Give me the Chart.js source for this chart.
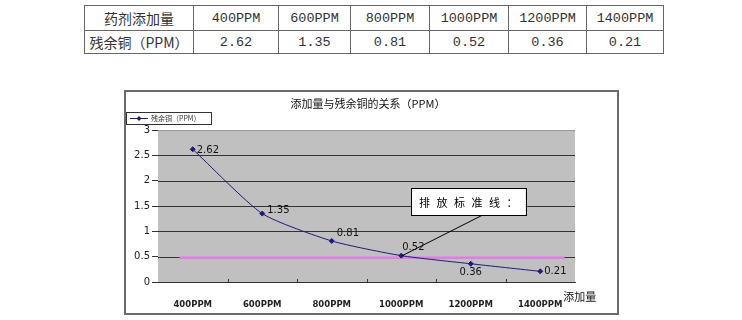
<!DOCTYPE html>
<html>
<head>
<meta charset="utf-8">
<script src="https://cdn.jsdelivr.net/npm/chart.js@4"></script>
<style>
  body { margin: 0; background: #fff; width: 742px; height: 320px; position: relative; overflow: hidden; }
  #tabela { position: absolute; left: 84px; top: 5px; border-collapse: collapse;
    font-family: "Liberation Mono", "Noto Sans CJK SC", monospace; font-size: 13.5px; color: #333; }
  #tabela td { border: 1px solid #666; text-align: center; padding: 0; }
  #tabela tr:first-child td { height: 24px; }
  #tabela tr:last-child td { height: 22px; }
  #tabela td.rot { font-family: "Noto Sans CJK SC", sans-serif; font-size: 14px; }
  #quadro { position: absolute; left: 124px; top: 90px; width: 495px; height: 225px;
    box-sizing: border-box; border: 2px solid #6b6b6b; background: #fff; }
  #quadro canvas { display: block; }
</style>
</head>
<body>
<table id="tabela"></table>
<div id="quadro"><canvas id="grafico" width="491" height="221"></canvas></div>
<script>
// dados
const categorias = ['400PPM', '600PPM', '800PPM', '1000PPM', '1200PPM', '1400PPM'];
const cobreResidual = [2.62, 1.35, 0.81, 0.52, 0.36, 0.21];
const linhaPadrao = 0.48;
const rotuloLinha = '药剂添加量';
const rotuloSerie = '残余铜（PPM）';
const tituloGrafico = '添加量与残余铜的关系（PPM）';
const tituloEixoX = '添加量';
const textoNota = '排放标准线：';

// tabela de cima
const tabela = document.getElementById('tabela');
const larguras = [108, 84, 71, 78, 78, 77, 76];
[[rotuloLinha, ...categorias], [rotuloSerie, ...cobreResidual.map(v => v.toFixed(2))]].forEach(linha => {
  const tr = document.createElement('tr');
  linha.forEach((txt, i) => {
    const td = document.createElement('td');
    td.textContent = txt;
    td.style.width = larguras[i] + 'px';
    if (i === 0) td.className = 'rot';
    tr.appendChild(td);
  });
  tabela.appendChild(tr);
});

const azul = '#1c1c7a';

// rotulos de valor: deslocamento [dx, dy, alinhamento] em px
const deslocRotulos = [[4, 1, 'left'], [5, -3, 'left'], [5, -8, 'left'], [1, -8, 'left'], [0, 9, 'center'], [4, 0, 'left']];

const extras = {
  id: 'extras',
  beforeDatasetsDraw(chart) {
    const { ctx, chartArea: a } = chart;
    ctx.save();
    ctx.fillStyle = '#c0c0c0';
    ctx.fillRect(a.left, a.top, a.right - a.left, a.bottom - a.top);
    // redesenha as linhas de grade por cima do fundo
    const y = chart.scales.y;
    ctx.strokeStyle = '#333';
    ctx.lineWidth = 1;
    y.ticks.forEach(t => {
      const py = Math.round(y.getPixelForValue(t.value)) + 0.5;
      ctx.strokeStyle = t.value === y.max ? '#9a9a9a' : '#333';
      ctx.beginPath(); ctx.moveTo(a.left, py); ctx.lineTo(a.right, py); ctx.stroke();
    });
    ctx.restore();
  },
  afterDatasetsDraw(chart) {
    const { ctx, chartArea: a } = chart;
    const x = chart.scales.x, x2 = chart.scales.x2, y = chart.scales.y;
    ctx.save();

    // marquinhas do eixo x nas divisas
    ctx.strokeStyle = '#333';
    ctx.lineWidth = 1;
    const passo = x.getPixelForValue(1) - x.getPixelForValue(0);
    for (let i = 1; i < categorias.length; i++) {
      const px = Math.round(x.getPixelForValue(i) - passo / 2) + 0.5;
      ctx.beginPath(); ctx.moveTo(px, a.bottom); ctx.lineTo(px, a.bottom - 3); ctx.stroke();
    }

    // valores
    const meta = chart.getDatasetMeta(1);
    ctx.font = '10px "DejaVu Sans"';
    ctx.fillStyle = '#111';
    ctx.textBaseline = 'middle';
    meta.data.forEach((p, i) => {
      const [dx, dy, al] = deslocRotulos[i];
      ctx.textAlign = al;
      ctx.fillText(cobreResidual[i].toFixed(2), p.x + dx, p.y + dy);
    });

    // caixa da nota + linha de chamada
    const bx1 = x2.getPixelForValue(3.14), bx2 = x2.getPixelForValue(4.79);
    const by1 = y.getPixelForValue(1.855), by2 = y.getPixelForValue(1.32);
    const alvo = meta.data[3];
    ctx.strokeStyle = '#000';
    ctx.beginPath();
    ctx.moveTo(x2.getPixelForValue(4.17), by2);
    ctx.lineTo(alvo.x + 1, alvo.y);
    ctx.stroke();
    ctx.fillStyle = '#fff';
    ctx.fillRect(bx1, by1, bx2 - bx1, by2 - by1);
    ctx.strokeRect(Math.round(bx1) + 0.5, Math.round(by1) + 0.5, Math.round(bx2 - bx1), Math.round(by2 - by1));
    ctx.fillStyle = '#000';
    ctx.font = '11px "Noto Sans CJK SC"';
    ctx.textAlign = 'center';
    const chars = [...textoNota];
    const meio = (bx1 + bx2) / 2, esp = 17.5;
    chars.forEach((c, i) => {
      ctx.fillText(c, meio + (i - (chars.length - 1) / 2) * esp, (by1 + by2) / 2 + 1);
    });

    // titulo do eixo x
    ctx.font = '11px "Noto Sans CJK SC"';
    ctx.textAlign = 'left';
    ctx.fillStyle = '#111';
    ctx.fillText(tituloEixoX, x.getPixelForValue(categorias.length - 1) + 23, a.bottom + 15);

    // titulo
    ctx.font = '11px "Noto Sans CJK SC"';
    ctx.textAlign = 'center';
    ctx.fillText(tituloGrafico, 242, 12);

    // legenda
    ctx.fillStyle = '#fff';
    ctx.fillRect(0, 20, 85, 12);
    ctx.strokeStyle = '#333';
    ctx.strokeRect(0.5, 20.5, 85, 12);
    ctx.strokeStyle = azul;
    ctx.beginPath(); ctx.moveTo(4, 26.5); ctx.lineTo(22, 26.5); ctx.stroke();
    ctx.fillStyle = azul;
    ctx.beginPath(); ctx.moveTo(13, 24); ctx.lineTo(15.5, 26.5); ctx.lineTo(13, 29); ctx.lineTo(10.5, 26.5); ctx.closePath(); ctx.fill();
    ctx.fillStyle = '#333';
    ctx.font = '7px "Noto Sans CJK SC"';
    ctx.textAlign = 'left';
    ctx.fillText(rotuloSerie, 25, 26.5);
    ctx.restore();
  }
};

new Chart(document.getElementById('grafico'), {
  type: 'line',
  data: {
    labels: categorias,
    datasets: [
      {
        label: '排放标准线',
        xAxisID: 'x2',
        data: [{ x: -0.19, y: linhaPadrao }, { x: 5.35, y: linhaPadrao }],
        borderColor: '#e07ee4',
        borderWidth: 2.5,
        pointRadius: 0,
        order: 2
      },
      {
        label: rotuloSerie,
        xAxisID: 'x',
        data: cobreResidual,
        borderColor: azul,
        backgroundColor: azul,
        borderWidth: 1,
        tension: 0.2,
        pointStyle: 'rectRot',
        pointRadius: 2.5,
        order: 1
      }
    ]
  },
  options: {
    responsive: false,
    animation: false,
    layout: { padding: { left: 0, right: 42, top: 38, bottom: 0 } },
    plugins: { legend: { display: false }, title: { display: false }, tooltip: { enabled: false } },
    scales: {
      x: {
        type: 'category',
        offset: true,
        grid: { display: false },
        border: { display: true, color: '#333' },
        ticks: { color: '#222', padding: 10, maxRotation: 0, autoSkip: false,
          font: { family: 'DejaVu Sans', size: 8.5, weight: 'bold' } },
        afterFit(s) { s.height = 31; }
      },
      x2: { type: 'linear', display: false, min: -0.5, max: 5.5 },
      y: {
        min: 0, max: 3,
        ticks: { stepSize: 0.5, color: '#222', padding: 2, font: { family: 'DejaVu Sans', size: 10 },
          callback: v => String(v) },
        grid: { color: '#333', lineWidth: 1, tickLength: 6, drawOnChartArea: false },
        border: { display: true, color: '#333' },
        afterFit(s) { s.width = 32; }
      }
    }
  },
  plugins: [extras]
});
</script>
</body>
</html>
